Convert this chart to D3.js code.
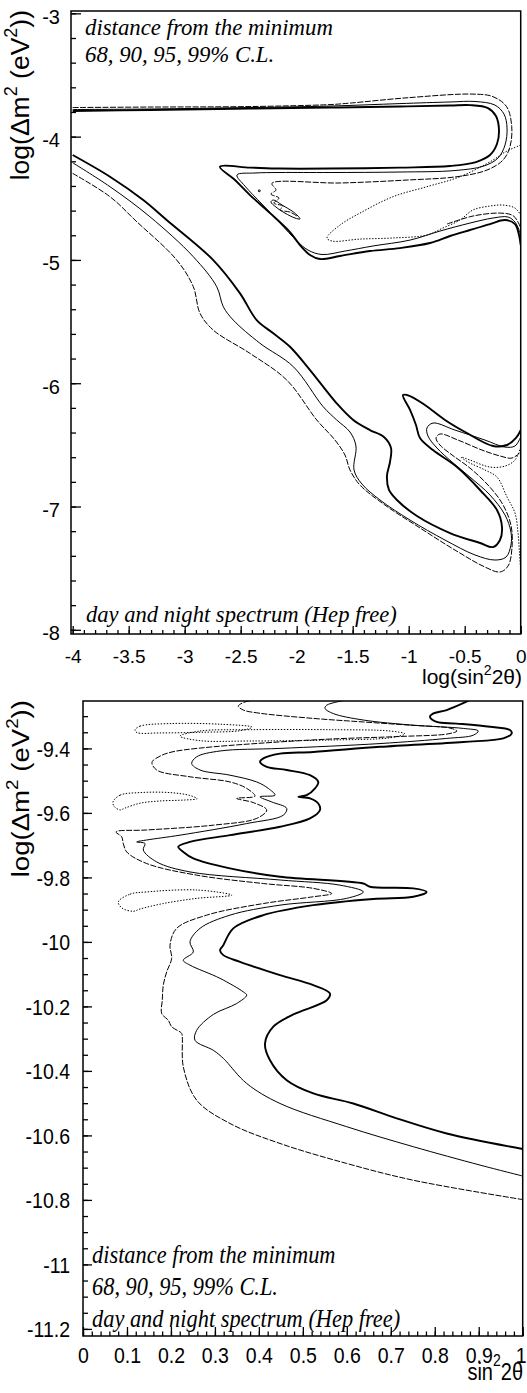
<!DOCTYPE html>
<meta charset="utf-8">
<script src="https://d3js.org/d3.v7.min.js"></script>
<style>
  body { margin: 0; background: #fff; }
</style>
<div id="chart"></div>
<script>

// ---- top panel: log(sin^2 2theta) vs log(dm^2) ----
// tick labels
var topXTicks = [-4, -3.5, -3, -2.5, -2, -1.5, -1, -0.5, 0];
var topXLabels = ["-4", "-3.5", "-3", "-2.5", "-2", "-1.5", "-1", "-0.5", "0"];
var topYTicks = [-8, -7, -6, -5, -4, -3];
var topYLabels = ["-8", "-7", "-6", "-5", "-4", "-3"];

// LMA contours (upper part)
var topLma99 = [[-4.000,-3.792],[-3.310,-3.784],[-2.417,-3.772],[-1.703,-3.764],[-1.078,-3.756],[-0.631,-3.748],[-0.453,-3.744],[-0.292,-3.768],[-0.221,-3.833],[-0.194,-3.946],[-0.212,-4.060],[-0.274,-4.149],[-0.399,-4.206],[-0.631,-4.238],[-1.078,-4.251],[-1.703,-4.259],[-2.149,-4.259],[-2.417,-4.251],[-2.685,-4.244],[-2.551,-4.352],[-2.417,-4.474],[-2.238,-4.620],[-2.060,-4.774],[-1.971,-4.879],[-1.881,-4.960],[-1.792,-4.993],[-1.613,-4.968],[-1.346,-4.928],[-1.078,-4.904],[-0.810,-4.863],[-0.631,-4.806],[-0.453,-4.757],[-0.274,-4.709],[-0.140,-4.676],[-0.051,-4.709],[-0.015,-4.798],[0,-4.879]];
var topLma95 = [[-4.000,-3.780],[-3.310,-3.776],[-2.417,-3.764],[-1.703,-3.752],[-1.078,-3.732],[-0.631,-3.719],[-0.408,-3.715],[-0.230,-3.744],[-0.149,-3.817],[-0.122,-3.930],[-0.140,-4.068],[-0.203,-4.174],[-0.328,-4.238],[-0.587,-4.275],[-1.078,-4.287],[-1.703,-4.291],[-2.149,-4.291],[-2.372,-4.295],[-2.533,-4.311],[-2.462,-4.401],[-2.310,-4.547],[-2.149,-4.701],[-1.997,-4.847],[-1.899,-4.920],[-1.774,-4.956],[-1.569,-4.928],[-1.319,-4.887],[-0.988,-4.839],[-0.721,-4.766],[-0.453,-4.701],[-0.247,-4.660],[-0.113,-4.652],[-0.051,-4.693],[-0.015,-4.757],[0,-4.806]];
var topLma90 = [[-4.000,-3.764],[-3.310,-3.760],[-2.417,-3.756],[-1.703,-3.740],[-1.524,-3.728],[-1.015,-3.685],[-0.426,-3.655],[-0.247,-3.676],[-0.125,-3.758],[-0.080,-3.920],[-0.096,-4.082],[-0.158,-4.190],[-0.301,-4.271],[-0.569,-4.325],[-1.015,-4.352],[-1.613,-4.376],[-2.221,-4.379],[-2.185,-4.433],[-2.230,-4.466],[-2.158,-4.498],[-2.203,-4.539],[-2.122,-4.563],[-2.149,-4.595],[-2.060,-4.612],[-1.988,-4.650]];
var topLma90b = [[-0.658,-4.709],[-0.426,-4.644],[-0.185,-4.620],[-0.069,-4.640],[-0.024,-4.693],[0,-4.741]];
var topLma68 = [[0,-4.068],[-0.140,-4.125],[-0.247,-4.190],[-0.542,-4.325],[-0.837,-4.406],[-1.140,-4.487],[-1.435,-4.620],[-1.613,-4.717],[-1.730,-4.822],[-1.685,-4.847],[-1.435,-4.831],[-1.140,-4.822],[-0.837,-4.798],[-0.694,-4.741],[-0.542,-4.676],[-0.426,-4.595],[-0.274,-4.563],[-0.158,-4.555],[-0.051,-4.579],[0,-4.636]];
var topIsland95 = [[-2.208,-4.514],[-2.131,-4.555],[-2.042,-4.603],[-1.988,-4.644],[-1.971,-4.668],[-2.015,-4.660],[-2.105,-4.620],[-2.185,-4.571],[-2.230,-4.530]];
var topDot99 = [[-2.338,-4.437],[-2.330,-4.437],[-2.334,-4.443]];

// LOW / diagonal band contours (lower part)
var topLow99 = [[-4.000,-4.149],[-3.667,-4.325],[-3.370,-4.514],[-3.161,-4.676],[-2.745,-5.001],[-2.506,-5.271],[-2.357,-5.488],[-2.209,-5.595],[-2.060,-5.704],[-1.881,-5.893],[-1.643,-6.163],[-1.495,-6.298],[-1.346,-6.380],[-1.221,-6.436],[-1.158,-6.526],[-1.167,-6.639],[-1.194,-6.753],[-1.176,-6.866],[-1.105,-6.947],[-0.926,-7.077],[-0.631,-7.215],[-0.363,-7.296],[-0.247,-7.329],[-0.185,-7.272],[-0.167,-7.166],[-0.212,-7.028],[-0.363,-6.866],[-0.569,-6.680],[-0.783,-6.542],[-0.899,-6.444],[-0.935,-6.339],[-0.988,-6.217],[-1.051,-6.096],[-0.988,-6.104],[-0.855,-6.177],[-0.676,-6.298],[-0.480,-6.404],[-0.247,-6.509],[-0.122,-6.501],[-0.042,-6.444],[0,-6.380]];
var topLow95 = [[-4.000,-4.212],[-3.667,-4.406],[-3.310,-4.650],[-2.923,-4.974],[-2.714,-5.217],[-2.655,-5.380],[-2.566,-5.488],[-2.328,-5.676],[-2.030,-5.866],[-1.763,-6.191],[-1.643,-6.298],[-1.524,-6.396],[-1.471,-6.509],[-1.488,-6.704],[-1.417,-6.818],[-1.256,-6.947],[-0.988,-7.110],[-0.676,-7.272],[-0.408,-7.393],[-0.230,-7.434],[-0.131,-7.410],[-0.087,-7.312],[-0.087,-7.207],[-0.140,-7.069],[-0.274,-6.907],[-0.453,-6.761],[-0.613,-6.639],[-0.747,-6.526],[-0.828,-6.428],[-0.837,-6.363],[-0.783,-6.323],[-0.587,-6.380],[-0.319,-6.461],[-0.140,-6.518],[-0.051,-6.509],[0,-6.436]];
var topLow90 = [[-4.000,-4.298],[-3.667,-4.487],[-3.435,-4.684],[-3.071,-5.001],[-2.923,-5.217],[-2.863,-5.433],[-2.745,-5.569],[-2.417,-5.758],[-2.089,-5.974],[-1.821,-6.298],[-1.658,-6.461],[-1.569,-6.582],[-1.524,-6.704],[-1.435,-6.826],[-1.212,-6.988],[-0.899,-7.174],[-0.587,-7.353],[-0.319,-7.491],[-0.185,-7.531],[-0.113,-7.483],[-0.078,-7.337],[-0.087,-7.150],[-0.167,-6.972],[-0.292,-6.826],[-0.453,-6.688],[-0.613,-6.582],[-0.721,-6.501],[-0.756,-6.444],[-0.721,-6.412],[-0.560,-6.461],[-0.346,-6.542],[-0.185,-6.590],[-0.078,-6.607],[0,-6.558]];
var topLow68 = [[0,-6.518],[-0.051,-6.623],[-0.140,-6.672],[-0.274,-6.680],[-0.453,-6.623],[-0.533,-6.599],[-0.471,-6.639],[-0.319,-6.704],[-0.212,-6.761],[-0.122,-6.923],[-0.051,-7.053],[-0.024,-7.215],[-0.011,-7.377],[0,-7.515]];

// ---- bottom panel: sin^2 2theta vs log(dm^2) ----
var botXTicks = [0, 0.1, 0.2, 0.3, 0.4, 0.5, 0.6, 0.7, 0.8, 0.9, 1];
var botXLabels = ["0", "0.1", "0.2", "0.3", "0.4", "0.5", "0.6", "0.7", "0.8", "0.9", "1"];
var botYTicks = [-11.2, -11, -10.8, -10.6, -10.4, -10.2, -10, -9.8, -9.6, -9.4];
var botYLabels = ["-11.2", "-11", "-10.8", "-10.6", "-10.4", "-10.2", "-10", "-9.8", "-9.6", "-9.4"];

var bot99 = [[0.8801,-9.250],[0.8271,-9.281],[0.7959,-9.292],[0.7891,-9.302],[0.8044,-9.318],[0.8499,-9.323],[0.9256,-9.333],[0.9711,-9.343],[0.9750,-9.354],[0.9559,-9.369],[0.8649,-9.380],[0.6755,-9.395],[0.5238,-9.411],[0.4480,-9.416],[0.4101,-9.431],[0.4026,-9.442],[0.4178,-9.457],[0.4633,-9.467],[0.5163,-9.483],[0.5351,-9.504],[0.5276,-9.524],[0.5088,-9.545],[0.4897,-9.550],[0.5163,-9.555],[0.5351,-9.571],[0.5390,-9.591],[0.5163,-9.617],[0.4480,-9.643],[0.3343,-9.669],[0.2433,-9.690],[0.2167,-9.705],[0.2281,-9.721],[0.2509,-9.741],[0.3343,-9.772],[0.4480,-9.798],[0.6375,-9.819],[0.6527,-9.829],[0.7512,-9.834],[0.7816,-9.845],[0.7512,-9.860],[0.6602,-9.867],[0.5238,-9.886],[0.4101,-9.917],[0.3418,-9.958],[0.3191,-10.010],[0.3116,-10.026],[0.3191,-10.041],[0.3571,-10.062],[0.4480,-10.103],[0.5238,-10.134],[0.5617,-10.160],[0.5542,-10.181],[0.4783,-10.225],[0.4328,-10.263],[0.4139,-10.315],[0.4253,-10.367],[0.4633,-10.429],[0.5238,-10.470],[0.6147,-10.501],[0.7134,-10.547],[0.8271,-10.594],[1.0,-10.642]];
var bot95 = [[0.5997,-9.250],[0.5542,-9.266],[0.5504,-9.276],[0.5693,-9.292],[0.6375,-9.312],[0.7512,-9.328],[0.8649,-9.338],[0.8990,-9.346],[0.8876,-9.359],[0.8271,-9.369],[0.6755,-9.385],[0.4480,-9.400],[0.3116,-9.408],[0.2586,-9.426],[0.2472,-9.447],[0.2661,-9.467],[0.3343,-9.483],[0.3951,-9.504],[0.4214,-9.524],[0.4367,-9.545],[0.4026,-9.550],[0.4292,-9.566],[0.4633,-9.586],[0.4556,-9.607],[0.3723,-9.633],[0.2206,-9.669],[0.1449,-9.684],[0.1221,-9.690],[0.1410,-9.695],[0.1371,-9.715],[0.1676,-9.752],[0.2433,-9.783],[0.4480,-9.808],[0.5845,-9.824],[0.6375,-9.845],[0.5997,-9.865],[0.4480,-9.886],[0.3343,-9.917],[0.2661,-9.958],[0.2433,-10.000],[0.2509,-10.031],[0.2281,-10.057],[0.2433,-10.072],[0.3116,-10.113],[0.3646,-10.155],[0.3723,-10.165],[0.3495,-10.191],[0.2963,-10.225],[0.2586,-10.274],[0.2547,-10.305],[0.2963,-10.336],[0.3191,-10.361],[0.3268,-10.372],[0.3723,-10.439],[0.4480,-10.501],[0.5997,-10.573],[0.7512,-10.635],[0.9029,-10.692],[1.0,-10.726]];
var bot90 = [[0.3951,-9.250],[0.3684,-9.256],[0.3532,-9.269],[0.3646,-9.281],[0.4026,-9.291],[0.5238,-9.307],[0.6375,-9.318],[0.7437,-9.328],[0.8346,-9.337],[0.8505,-9.346],[0.8301,-9.355],[0.7209,-9.363],[0.5617,-9.371],[0.4026,-9.384],[0.2661,-9.399],[0.2024,-9.411],[0.1751,-9.424],[0.1569,-9.443],[0.1676,-9.467],[0.2433,-9.488],[0.3343,-9.504],[0.3723,-9.524],[0.3912,-9.548],[0.3495,-9.555],[0.3873,-9.568],[0.4178,-9.591],[0.3951,-9.617],[0.2963,-9.638],[0.1449,-9.653],[0.0751,-9.659],[0.0880,-9.674],[0.0917,-9.695],[0.0994,-9.721],[0.1449,-9.757],[0.2586,-9.793],[0.4101,-9.819],[0.5238,-9.834],[0.5655,-9.850],[0.5238,-9.860],[0.4101,-9.881],[0.2813,-9.917],[0.2131,-9.958],[0.1979,-10.010],[0.2017,-10.051],[0.1903,-10.093],[0.1826,-10.134],[0.1803,-10.181],[0.1790,-10.222],[0.1940,-10.243],[0.2017,-10.263],[0.2206,-10.279],[0.2245,-10.284],[0.2281,-10.387],[0.2586,-10.491],[0.3343,-10.563],[0.4480,-10.625],[0.5997,-10.687],[0.7512,-10.739],[1.0,-10.799]];
var bot68a = [[0.1183,-9.343],[0.1296,-9.331],[0.1979,-9.323],[0.3116,-9.325],[0.3844,-9.334],[0.3571,-9.345],[0.2661,-9.350],[0.1751,-9.352],[0.1228,-9.351]];
var bot68b = [[0.2206,-9.362],[0.2661,-9.346],[0.3798,-9.342],[0.5617,-9.342],[0.6982,-9.346],[0.7323,-9.355],[0.6982,-9.367],[0.5617,-9.374],[0.3798,-9.377],[0.2661,-9.376]];
var bot68c = [[0.0682,-9.566],[0.0842,-9.545],[0.1296,-9.537],[0.1979,-9.537],[0.2433,-9.546],[0.2593,-9.556],[0.2320,-9.560],[0.1751,-9.563],[0.1296,-9.570],[0.0955,-9.585],[0.0842,-9.591],[0.0705,-9.579]];
var bot68d = [[0.0803,-9.876],[0.1069,-9.852],[0.1449,-9.845],[0.2586,-9.839],[0.3382,-9.855],[0.2586,-9.865],[0.1826,-9.881],[0.1296,-9.898],[0.1144,-9.905],[0.0887,-9.895]];

var W = 527, H = 1393;
var svg = d3.select("#chart").append("svg")
  .attr("width", W).attr("height", H)
  .style("background", "#fff");

var sansFont = "'Liberation Sans', Arial, Helvetica, sans-serif";
var serifFont = "'Liberation Serif', 'Times New Roman', serif";

// line style per confidence level
var levelStyle = {
  "99": {w: 1.9, dash: null},
  "95": {w: 1.0, dash: null},
  "90": {w: 1.0, dash: "6,1.5"},
  "68": {w: 1.0, dash: "1.4,1.6"}
};

function drawContour(g, x, y, pts, level, closed) {
  var line = d3.line()
    .x(function(d) { return x(d[0]); })
    .y(function(d) { return y(d[1]); })
    .curve(closed ? d3.curveCatmullRomClosed.alpha(0.5) : d3.curveCatmullRom.alpha(0.5));
  var st = levelStyle[level];
  g.append("path")
    .datum(pts)
    .attr("d", line)
    .attr("fill", "none")
    .attr("stroke", "#000")
    .attr("stroke-width", st.w)
    .attr("stroke-linejoin", "round")
    .attr("stroke-dasharray", st.dash);
}

function frame(x, y) {
  svg.append("rect")
    .attr("x", x.range()[0]).attr("y", y.range()[1])
    .attr("width", x.range()[1] - x.range()[0])
    .attr("height", y.range()[0] - y.range()[1])
    .attr("fill", "none").attr("stroke", "#000").attr("stroke-width", 1.5);
}

function ticks(g) {
  g.select(".domain").remove();
  g.selectAll("line").attr("stroke-width", 1.3);
  g.attr("font-family", sansFont);
}

// ================= TOP PANEL =================
var topX = d3.scaleLinear().domain([-4.015, 0]).range([71, 520.7]);
var topY = d3.scaleLinear().domain([-8.034, -2.981]).range([634, 11]);

svg.append("clipPath").attr("id", "clipTop").append("rect")
  .attr("x", 71).attr("y", 11).attr("width", 449.7).attr("height", 623);

var gTop = svg.append("g").attr("clip-path", "url(#clipTop)");
drawContour(gTop, topX, topY, topLma99, "99");
drawContour(gTop, topX, topY, topLma95, "95");
drawContour(gTop, topX, topY, topLma90, "90");
drawContour(gTop, topX, topY, topLma90b, "90");
drawContour(gTop, topX, topY, topLma68, "68");
drawContour(gTop, topX, topY, topIsland95, "95", true);
drawContour(gTop, topX, topY, topDot99, "99", true);
drawContour(gTop, topX, topY, topLow99, "99");
drawContour(gTop, topX, topY, topLow95, "95");
drawContour(gTop, topX, topY, topLow90, "90");
drawContour(gTop, topX, topY, topLow68, "68");

frame(topX, topY);

var topXMinor = d3.range(41).map(function(i) { return -4 + i * 0.1; });
var topYMinor = d3.range(26).map(function(i) { return -8 + i * 0.2; });

svg.append("g").attr("transform", "translate(0,634)")
  .call(d3.axisBottom(topX).tickValues(topXMinor).tickSize(-4).tickFormat(""))
  .call(ticks);
svg.append("g").attr("transform", "translate(0,634)")
  .call(d3.axisBottom(topX).tickValues(topXTicks).tickSize(-8)
    .tickFormat(function(d, i) { return topXLabels[i]; }))
  .call(ticks)
  .selectAll("text")
    .attr("y", 29).attr("dy", null)
    .attr("font-size", 19);

svg.append("g").attr("transform", "translate(71,0)")
  .call(d3.axisLeft(topY).tickValues(topYMinor).tickSize(-5).tickFormat(""))
  .call(ticks);
svg.append("g").attr("transform", "translate(71,0)")
  .call(d3.axisLeft(topY).tickValues(topYTicks).tickSize(-10).tickPadding(11)
    .tickFormat(function(d, i) { return topYLabels[i]; }))
  .call(ticks)
  .selectAll("text")
    .attr("dy", 10)
    .attr("font-size", 20);

// axis titles
function yTitle(tr, size) {
  var t = svg.append("text")
    .attr("transform", tr)
    .attr("text-anchor", "end")
    .attr("font-family", sansFont)
    .attr("font-size", size);
  t.append("tspan").text("log(\u0394m");
  t.append("tspan").attr("dy", -size * 0.45).attr("font-size", size * 0.68).text("2");
  t.append("tspan").attr("dy", size * 0.45).text(" (eV");
  t.append("tspan").attr("dy", -size * 0.45).attr("font-size", size * 0.68).text("2");
  t.append("tspan").attr("dy", size * 0.45).text("))");
}
yTitle("translate(29,10) rotate(-90)", 26.5);

var xt = svg.append("text")
  .attr("x", 522).attr("y", 684)
  .attr("text-anchor", "end")
  .attr("font-family", sansFont).attr("font-size", 21);
xt.append("tspan").text("log(sin");
xt.append("tspan").attr("dy", -9).attr("font-size", 14).text("2");
xt.append("tspan").attr("dy", 9).text("2\u03b8)");

// italic notes
function note(x, y, txt, size, stretch) {
  svg.append("text")
    .attr("transform", "translate(" + x + "," + y + ") scale(1," + stretch + ")")
    .attr("font-family", serifFont)
    .attr("font-style", "italic")
    .attr("font-size", size)
    .text(txt);
}
note(85, 35, "distance from the minimum", 22.8, 1.05);
note(85, 62, "68, 90, 95, 99% C.L.", 22.8, 1.05);
note(86, 622, "day and night spectrum (Hep free)", 22.6, 1.05);

// ================= BOTTOM PANEL =================
var botX = d3.scaleLinear().domain([0, 1]).range([83, 522.7]);
var botY = d3.scaleLinear().domain([-11.222, -9.253]).range([1336, 701]);

svg.append("clipPath").attr("id", "clipBot").append("rect")
  .attr("x", 83).attr("y", 701).attr("width", 439.7).attr("height", 635);

var gBot = svg.append("g").attr("clip-path", "url(#clipBot)");
drawContour(gBot, botX, botY, bot99, "99");
drawContour(gBot, botX, botY, bot95, "95");
drawContour(gBot, botX, botY, bot90, "90");
drawContour(gBot, botX, botY, bot68a, "68", true);
drawContour(gBot, botX, botY, bot68b, "68", true);
drawContour(gBot, botX, botY, bot68c, "68", true);
drawContour(gBot, botX, botY, bot68d, "68", true);

frame(botX, botY);

var botXMinor = d3.range(51).map(function(i) { return i * 0.02; });
var botYMinor = d3.range(39).map(function(i) { return -11.2 + i * 0.05; });

svg.append("g").attr("transform", "translate(0,1336)")
  .call(d3.axisBottom(botX).tickValues(botXMinor).tickSize(-4.5).tickFormat(""))
  .call(ticks);
svg.append("g").attr("transform", "translate(0,1336)")
  .call(d3.axisBottom(botX).tickValues(botXTicks).tickSize(-9)
    .tickFormat(function(d, i) { return botXLabels[i]; }))
  .call(ticks)
  .selectAll("text")
    .attr("y", null).attr("dy", null)
    .attr("transform", function(d, i) {
      return "translate(" + (i === botXTicks.length - 1 ? -2 : 0) + ",27) scale(1,1.15)";
    })
    .attr("font-size", 19.5);

svg.append("g").attr("transform", "translate(83,0)")
  .call(d3.axisLeft(botY).tickValues(botYMinor).tickSize(-5).tickFormat(""))
  .call(ticks);
svg.append("g").attr("transform", "translate(83,0)")
  .call(d3.axisLeft(botY).tickValues(botYTicks).tickSize(-9)
    .tickFormat(function(d, i) { return botYLabels[i]; }))
  .call(ticks)
  .selectAll("text")
    .attr("x", null).attr("dy", null)
    .attr("transform", "translate(-13,8) scale(1,1.15)")
    .attr("font-size", 19.5);

yTitle("translate(29,700) scale(1,1.15) rotate(-90)", 24);

var xb = svg.append("text")
  .attr("transform", "translate(523,1380) scale(1,1.15)")
  .attr("text-anchor", "end")
  .attr("font-family", sansFont).attr("font-size", 20);
xb.append("tspan").text("sin");
xb.append("tspan").attr("dy", -12).attr("font-size", 14).text("2");
xb.append("tspan").attr("dy", 12).text("2\u03b8");

note(92, 1263, "distance from the minimum", 22.4, 1.15);
note(92, 1295, "68, 90, 95, 99% C.L.", 22.4, 1.15);
note(92, 1327, "day and night spectrum (Hep free)", 22.4, 1.15);

</script>
